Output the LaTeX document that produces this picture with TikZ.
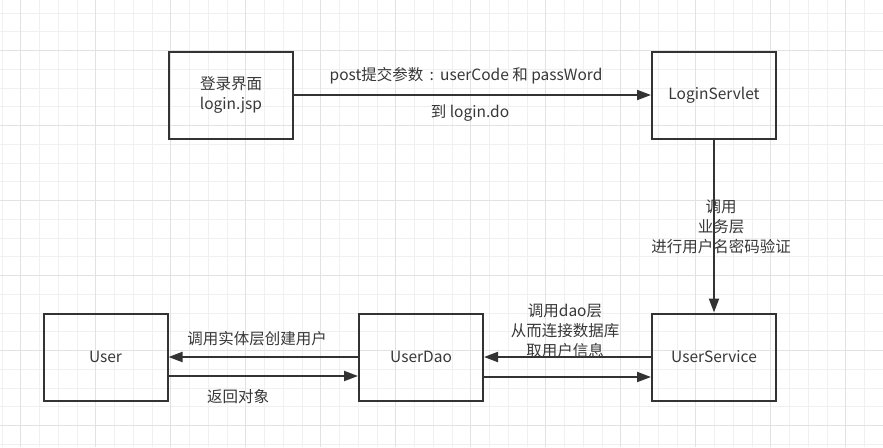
\documentclass[tikz,border=0pt]{standalone}
\usepackage{fontspec}
\setmainfont{Noto Sans CJK SC}
\usetikzlibrary{arrows.meta}
\definecolor{ink}{HTML}{333333}
\definecolor{txt}{HTML}{383838}
\definecolor{gridminor}{HTML}{F0F0F0}
\definecolor{gridmajor}{HTML}{E2E2E2}
\begin{document}
\begin{tikzpicture}[x=1pt,y=-1pt,
  box/.style={draw=ink, line width=2pt, minimum width=124pt, minimum height=87pt,
    align=center, text=txt, font=\fontsize{15.5}{20}\selectfont, inner sep=0pt},
  lbl/.style={text=txt, align=center, font=\fontsize{15.5}{20}\selectfont, inner sep=0pt},
  arr/.style={draw=ink, line width=2pt, -{Triangle[length=14pt,width=10pt]}}]
\useasboundingbox (0,0) rectangle (883,447);
\fill[white] (0,0) rectangle (883,447);
% grid
\begin{scope}
\clip (0,0) rectangle (883,447);
\foreach \k in {0,...,47}{
  \pgfmathsetmacro{\gx}{2+18.75*\k}
  \draw[gridminor, line width=1pt] (\gx,0) -- (\gx,447);
}
\foreach \k in {0,...,25}{
  \pgfmathsetmacro{\gy}{-5.55+18.75*\k}
  \draw[gridminor, line width=1pt] (0,\gy) -- (883,\gy);
}
\foreach \m in {0,...,11}{
  \pgfmathsetmacro{\gx}{20.75+75*\m}
  \draw[gridmajor, line width=1pt] (\gx,0) -- (\gx,447);
}
\foreach \m in {0,...,5}{
  \pgfmathsetmacro{\gy}{50.7+75*\m}
  \draw[gridmajor, line width=1pt] (0,\gy) -- (883,\gy);
}
\end{scope}
% boxes
\node[box] (login) at (231,95) {登录界面\\login.jsp};
\node[box] (servlet) at (714,95) {LoginServlet};
\node[box] (svc) at (714,357) {UserService};
\node[box] (dao) at (421,357) {UserDao};
\node[box] (user) at (105.5,357) {User};
% connectors
\draw[arr] (login.east) -- (servlet.west);
\draw[arr] (servlet.south) -- (svc.north);
\draw[arr] (svc.west) -- (dao.east);
\draw[arr] ([yshift=-20pt]dao.east) -- ([yshift=-20pt]svc.west);
\draw[arr] (dao.west) -- (user.east);
\draw[arr] ([yshift=-19pt]user.east) -- ([yshift=-19pt]dao.west);
% labels
\node[lbl] (l1) at (466,76) {post提交参数\hspace{0.4em}:\hspace{0.4em}userCode 和 passWord};
\node[lbl] (l2) at (470,113) {到 login.do};
\node[lbl] (l3) at (721,227) {调用\\业务层\\进行用户名密码验证};
\node[lbl] (l4) at (565,331) {调用dao层\\从而连接数据库\\取用户信息};
\node[lbl] (l5) at (257,339) {调用实体层创建用户};
\node[lbl] (l6) at (238,397) {返回对象};
\end{tikzpicture}
\end{document}
